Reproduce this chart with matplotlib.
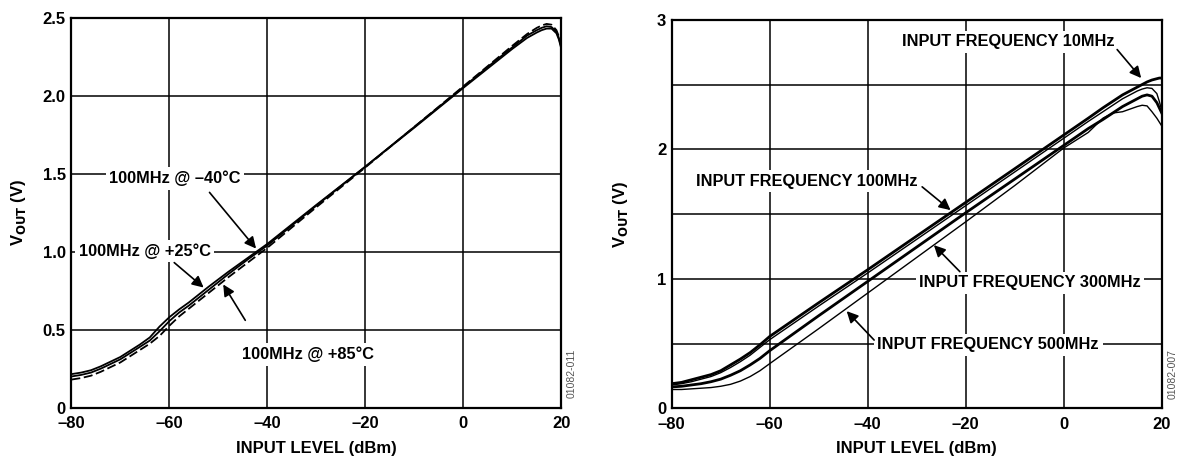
import matplotlib
matplotlib.use("Agg")
import matplotlib.pyplot as plt

plt.rcParams['font.family'] = ['Liberation Sans', 'DejaVu Sans']
plt.rcParams['font.weight'] = 'bold'

# left chart: VOUT vs input level at 100MHz, three temperatures
x_left = [-80, -78, -76, -74, -72, -70, -68, -66, -64, -62, -60, -58, -56, -52, -48,
          -44, -40, -30, -20, -10, 0, 5, 10, 13, 15, 16, 17, 18, 19, 19.5, 20]
v_m40 = [0.215, 0.225, 0.24, 0.265, 0.295, 0.325, 0.365, 0.405, 0.45, 0.52, 0.58, 0.63,
         0.675, 0.775, 0.87, 0.96, 1.05, 1.30, 1.545, 1.795, 2.05, 2.175, 2.30, 2.37,
         2.405, 2.42, 2.43, 2.43, 2.40, 2.36, 2.30]
v_p25 = [0.20, 0.21, 0.225, 0.25, 0.28, 0.31, 0.35, 0.39, 0.43, 0.49, 0.555, 0.61,
         0.655, 0.755, 0.855, 0.95, 1.04, 1.295, 1.545, 1.80, 2.055, 2.185, 2.31, 2.385,
         2.42, 2.435, 2.445, 2.44, 2.41, 2.37, 2.31]
v_p85 = [0.18, 0.19, 0.205, 0.23, 0.26, 0.29, 0.33, 0.37, 0.41, 0.46, 0.525, 0.585,
         0.635, 0.735, 0.835, 0.93, 1.025, 1.285, 1.54, 1.80, 2.06, 2.19, 2.32, 2.395,
         2.435, 2.45, 2.46, 2.455, 2.42, 2.38, 2.32]

# right chart: VOUT vs input level for four input frequencies
x_right = [-80, -78, -76, -74, -72, -70, -68, -66, -64, -62, -60, -55, -50, -40, -30,
           -20, -10, 0, 5, 8, 10, 12, 15, 16, 17, 18, 19, 19.5, 20]
v_10m = [0.19, 0.20, 0.22, 0.24, 0.26, 0.29, 0.335, 0.38, 0.43, 0.49, 0.555, 0.685,
         0.815, 1.07, 1.33, 1.59, 1.85, 2.11, 2.24, 2.32, 2.37, 2.42, 2.48, 2.50, 2.52,
         2.535, 2.545, 2.55, 2.55]
v_100m = [0.18, 0.19, 0.205, 0.225, 0.245, 0.275, 0.315, 0.36, 0.41, 0.47, 0.53, 0.66,
          0.79, 1.045, 1.305, 1.565, 1.825, 2.085, 2.215, 2.29, 2.34, 2.39, 2.45, 2.465,
          2.475, 2.47, 2.43, 2.37, 2.30]
v_300m = [0.165, 0.17, 0.18, 0.19, 0.205, 0.225, 0.255, 0.29, 0.335, 0.385, 0.445, 0.58,
          0.715, 0.98, 1.245, 1.51, 1.77, 2.03, 2.16, 2.23, 2.28, 2.33, 2.39, 2.41, 2.42,
          2.41, 2.36, 2.32, 2.28]
v_500m = [0.145, 0.145, 0.15, 0.155, 0.16, 0.17, 0.185, 0.21, 0.245, 0.29, 0.345, 0.48,
          0.615, 0.89, 1.165, 1.44, 1.72, 2.01, 2.13, 2.24, 2.28, 2.29, 2.33, 2.34, 2.335,
          2.29, 2.24, 2.21, 2.18]

x_ticks = [-80, -60, -40, -20, 0, 20]
left_yticks = [0, 0.5, 1.0, 1.5, 2.0, 2.5]
left_ylabels = ['0', '0.5', '1.0', '1.5', '2.0', '2.5']
right_yticks = [0, 1, 2, 3]
right_ylabels = ['0', '1', '2', '3']


def style_axes(ax, ymax, ygrid, yticks, ylabels, code, ylab_x):
    ax.set_xlim(-80, 20)
    ax.set_ylim(0, ymax)
    for v in x_ticks[1:-1]:
        ax.axvline(v, color='black', lw=1.1, zorder=1)
    for v in ygrid:
        ax.axhline(v, color='black', lw=1.1, zorder=1)
    ax.set_xticks(x_ticks)
    ax.set_xticklabels([str(v).replace('-', '\u2013') for v in x_ticks])
    ax.set_yticks(yticks)
    ax.set_yticklabels(ylabels)
    ax.tick_params(axis='x', length=0, labelsize=12, pad=6)
    ax.tick_params(axis='y', length=0, labelsize=12, pad=4)
    for lab in ax.get_xticklabels() + ax.get_yticklabels():
        lab.set_fontweight('bold')
    for s in ax.spines.values():
        s.set_linewidth(1.6)
    ax.set_xlabel('INPUT LEVEL (dBm)', fontsize=12, fontweight='bold', labelpad=7)
    ax.set_ylabel(r'V$_{\mathbf{OUT}}$ (V)', fontsize=12, fontweight='bold')
    ax.yaxis.set_label_coords(ylab_x, 0.5)
    ax.text(1.022, 0.025, code, transform=ax.transAxes, rotation=90, fontsize=7.5,
            color='#555555', fontweight='normal', ha='center', va='bottom')


def label(ax, txt, pos, start, end):
    ax.text(pos[0], pos[1], txt, ha='center', va='center', fontsize=11.8,
            fontweight='bold', zorder=4,
            bbox=dict(facecolor='white', edgecolor='none', pad=2.5))
    ax.annotate('', xy=end, xytext=start, zorder=5,
                arrowprops=dict(arrowstyle='-|>', color='black', lw=1.2,
                                mutation_scale=17, shrinkA=0, shrinkB=0))


fig = plt.figure(figsize=(11.81, 4.59), dpi=100)

ax1 = fig.add_axes([0.0604, 0.1118, 0.4149, 0.8497])
style_axes(ax1, 2.5, [0.5, 1.0, 1.5, 2.0], left_yticks, left_ylabels, '01082-011', -0.088)
ax1.plot(x_left, v_m40, color='black', lw=1.3, zorder=3)
ax1.plot(x_left, v_p25, color='black', lw=1.3, zorder=3)
ax1.plot(x_left, v_p85, color='black', lw=1.3, ls=(0, (5, 2)), zorder=3)
label(ax1, '100MHz @ \u201340\u00b0C', (-58.8, 1.47), (-51.8, 1.38), (-42.3, 1.02))
label(ax1, '100MHz @ +25\u00b0C', (-65.0, 1.005), (-59.0, 0.93), (-53.0, 0.77))
label(ax1, '100MHz @ +85\u00b0C', (-31.7, 0.34), (-44.5, 0.56), (-49.0, 0.79))

ax2 = fig.add_axes([0.5688, 0.1105, 0.4149, 0.8464])
style_axes(ax2, 3, [0.5, 1.0, 1.5, 2.0, 2.5], right_yticks, right_ylabels, '01082-007', -0.085)
ax2.plot(x_right, v_10m, color='black', lw=2.0, zorder=3)
ax2.plot(x_right, v_100m, color='black', lw=1.0, zorder=3)
ax2.plot(x_right, v_300m, color='black', lw=2.0, zorder=3)
ax2.plot(x_right, v_500m, color='black', lw=1.0, zorder=3)
label(ax2, 'INPUT FREQUENCY 10MHz', (-11.3, 2.83), (10.9, 2.77), (15.8, 2.55))
label(ax2, 'INPUT FREQUENCY 100MHz', (-52.4, 1.755), (-28.9, 1.71), (-23.1, 1.53))
label(ax2, 'INPUT FREQUENCY 300MHz', (-6.9, 0.968), (-21.2, 1.055), (-26.5, 1.26))
label(ax2, 'INPUT FREQUENCY 500MHz', (-15.4, 0.489), (-38.7, 0.527), (-44.3, 0.75))

fig.savefig('out.png', dpi=100)
